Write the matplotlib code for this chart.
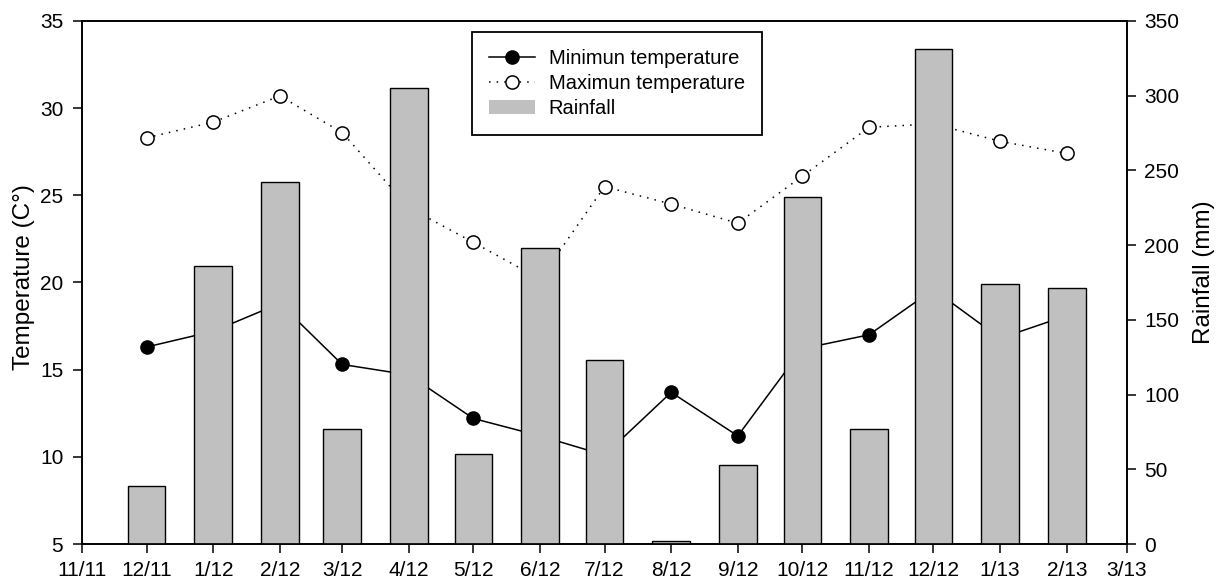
import datetime as dt
import matplotlib
matplotlib.use("Agg")
import matplotlib.pyplot as plt
from matplotlib.patches import Patch
from matplotlib.lines import Line2D

plt.rcParams['font.family'] = ['Liberation Sans', 'DejaVu Sans']

months = ["2011-12", "2012-01", "2012-02", "2012-03", "2012-04", "2012-05",
          "2012-06", "2012-07", "2012-08", "2012-09", "2012-10", "2012-11",
          "2012-12", "2013-01", "2013-02"]
min_temp = [16.3, 17.2, 18.8, 15.3, 14.7, 12.2, 11.2, 10.1, 13.7, 11.2,
            16.2, 17.0, 19.6, 16.8, 18.1]
max_temp = [28.3, 29.2, 30.7, 28.6, 24.3, 22.3, 20.2, 25.5, 24.5, 23.4,
            26.1, 28.9, 29.1, 28.1, 27.4]
rainfall = [39, 186, 242, 77, 305, 60, 198, 123, 2, 53, 232, 77, 331, 174, 171]

tick_months = ["2011-11"] + months + ["2013-03"]


def to_date(s):
    y, m = s.split("-")
    return dt.datetime(int(y), int(m), 1)


x = [to_date(m) for m in months]
xticks = [to_date(m) for m in tick_months]
tick_labels = ["%d/%s" % (d.month, d.strftime("%y")) for d in xticks]

fig = plt.figure(figsize=(12.18, 5.81), dpi=100)
ax1 = fig.add_axes([82 / 1218, 1 - 544 / 581, (1127 - 82) / 1218, (544 - 21) / 581])
ax2 = ax1.twinx()

# lines go on the lower axes so the bars cover them
ax1.plot(x, min_temp, color="black", lw=1.1, marker="o", markersize=9.5,
         markerfacecolor="black", markeredgecolor="black")
ax1.plot(x, max_temp, color="black", lw=1.1, linestyle=(0, (1, 4)), marker="o",
         markersize=9.5, markerfacecolor="white", markeredgecolor="black",
         markeredgewidth=1.1)

ax2.bar(x, rainfall, width=17.5, color="#c0c0c0", edgecolor="black", linewidth=1.0)

ax1.set_xlim(xticks[0], xticks[-1])
ax1.set_ylim(5, 35)
ax2.set_ylim(0, 350)
ax1.set_yticks(range(5, 36, 5))
ax2.set_yticks(range(0, 351, 50))
ax1.set_xticks(xticks)
ax1.set_xticklabels(tick_labels)

for ax in (ax1, ax2):
    for sp in ax.spines.values():
        sp.set_linewidth(1.2)
    ax.tick_params(direction="out", length=6.5, width=1.1, labelsize=15)
ax1.tick_params(axis="x", top=False, pad=5.5)
ax1.tick_params(axis="y", pad=7)
ax2.tick_params(axis="y", pad=6)

ax1.set_ylabel("Temperature (C°)", fontsize=17.5, rotation=90, ha="center", va="center")
ax1.yaxis.set_label_coords(-0.0555, 0.51)
ax2.set_ylabel("Rainfall (mm)", fontsize=17.5, rotation=90, ha="center", va="center")
ax2.yaxis.set_label_coords(1.0737, 0.52)

handles = [
    Line2D([], [], color="black", lw=1.1, marker="o", markersize=9.5,
           markerfacecolor="black"),
    Line2D([], [], color="black", lw=1.1, linestyle=(0, (1, 4)), marker="o",
           markersize=9.5, markerfacecolor="white", markeredgewidth=1.1),
    Patch(facecolor="#c0c0c0", edgecolor="none"),
]
labels = ["Minimun temperature", "Maximun temperature", "Rainfall"]
leg = ax2.legend(handles, labels, loc="upper left",
                 bbox_to_anchor=(472 / 1218, 1 - 32 / 581),
                 bbox_transform=fig.transFigure, fontsize=14.5,
                 fancybox=False, framealpha=1, edgecolor="black",
                 handlelength=2.3, handletextpad=0.65, labelspacing=0.3,
                 borderpad=0.85, borderaxespad=0)
leg.get_frame().set_linewidth(1.3)

fig.savefig("out.png", dpi=100)
